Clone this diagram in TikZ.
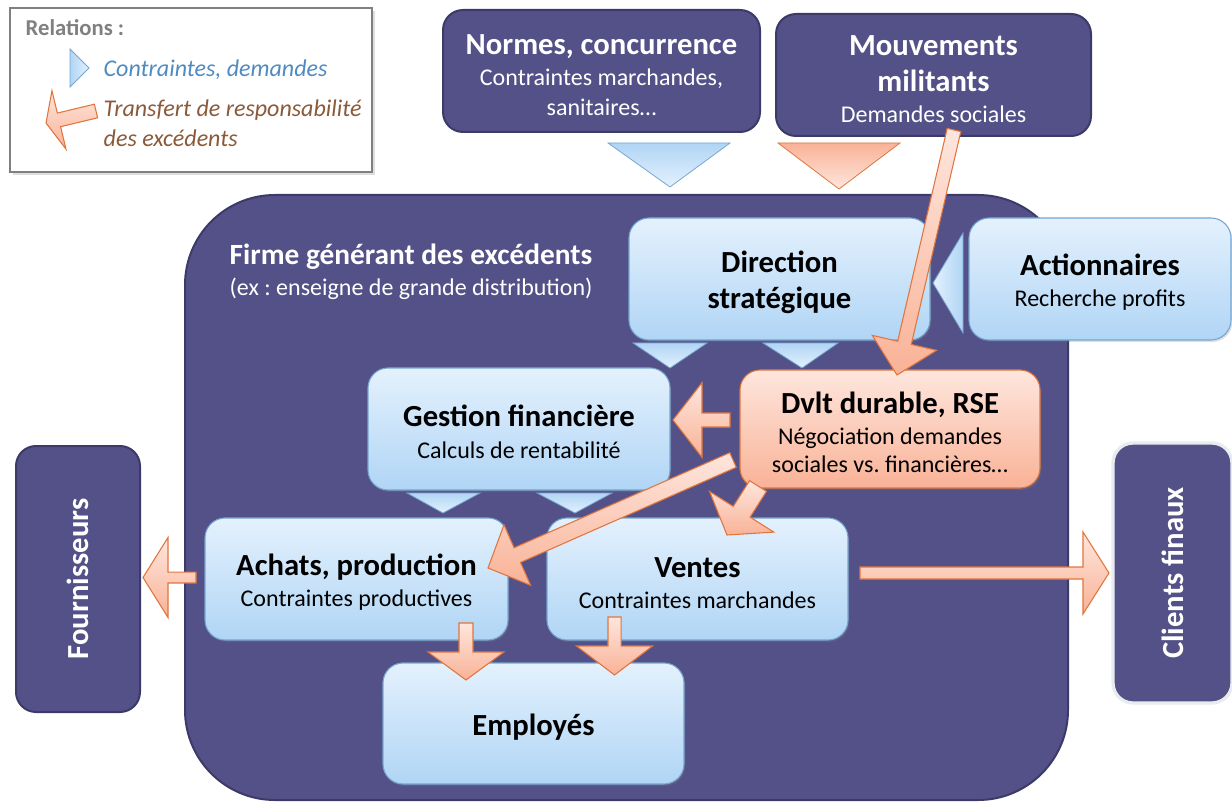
\documentclass[tikz,border=0pt]{standalone}
\usepackage{fontspec}
\setmainfont{Carlito}
\usetikzlibrary{calc,shadows}
\frenchspacing

\definecolor{darkfill}{RGB}{83,81,135}
\definecolor{darkline}{RGB}{60,58,105}
\definecolor{bluetop}{RGB}{228,241,253}
\definecolor{bluebot}{RGB}{176,213,245}
\definecolor{blueline}{RGB}{118,166,208}
\definecolor{orangetop}{RGB}{254,230,221}
\definecolor{orangebot}{RGB}{249,178,151}
\definecolor{orangeline}{RGB}{224,118,62}
\definecolor{legblue}{RGB}{79,139,192}
\definecolor{legbrown}{RGB}{138,90,58}

\tikzset{
	darkbox/.style={draw=darkline, line width=1.5pt, fill=darkfill, rounded corners=15pt, text=white, align=center, inner sep=0pt, font=\subfont},
	bluebox/.style={draw=blueline, line width=0.8pt, top color=bluetop, bottom color=bluebot, rounded corners=15pt, align=center, inner sep=0pt, font=\subfont, drop shadow={opacity=0.25, shadow xshift=1pt, shadow yshift=-1.5pt}},
	orangebox/.style={bluebox, draw=orangeline, top color=orangetop, bottom color=orangebot},
	bluetri/.style={draw=blueline, line width=0.6pt, top color=bluebot, bottom color=bluetop},
	orangetri/.style={draw=orangeline, line width=0.6pt, top color=orangebot, bottom color=orangetop},
	relarrow/.style={draw=orangeline, line width=0.8pt, top color=orangetop, bottom color=orangebot, line join=miter},
}
\newcommand{\subfont}{\fontsize{18}{22.5}\selectfont}
\newcommand{\titre}[1]{{\fontsize{23}{27}\selectfont\bfseries\rule{0pt}{21pt}#1}}
% block arrow: from, to, shaft half width, head half width, head length
\newcommand{\blockarrow}[5]{%
	\coordinate (neck) at ($(#2)!#5!(#1)$);
	\path[relarrow] ($(#1)!#3!90:(#2)$) -- ($(neck)!#3!90:(#2)$) -- ($(neck)!#4!90:(#2)$) -- (#2)
		-- ($(neck)!#4!-90:(#2)$) -- ($(neck)!#3!-90:(#2)$) -- ($(#1)!#3!-90:(#2)$) -- cycle;}

\begin{document}
\begin{tikzpicture}[x=0.75pt, y=-0.75pt]
	\useasboundingbox (0,0) rectangle (1232,802);

	% legend
	\node[draw=gray, line width=0.8pt, fill=white, minimum width=271.5pt, minimum height=123pt, drop shadow={opacity=0.25}] (legende) at (191,90) {};
	\node[anchor=west, text=gray, font=\fontsize{17}{20}\selectfont\bfseries] (relations) at (21,28) {Relations :};
	\path[bluetri, left color=bluebot, right color=bluetop] (70,49) -- (89,68) -- (70,87) -- cycle;
	\node[anchor=west, text=legblue, font=\fontsize{18}{22}\selectfont\itshape] (contraintes) at (99,70) {Contraintes, demandes};
	\node[anchor=north west, align=left, text=legbrown, font=\fontsize{18}{22.5}\selectfont\itshape] (transfert) at (99,95) {Transfert de responsabilité\\des excédents};
	\coordinate (legtail) at (96,111);
	\coordinate (legtip) at (46,123);
	\blockarrow{legtail}{legtip}{5.25pt}{22.5pt}{10pt}

	% firm
	\node[draw=darkline, line width=1.5pt, fill=darkfill, rounded corners=67.5pt, minimum width=662.25pt, minimum height=453.75pt] (firme) at (626.5,497.5) {};
	\node[anchor=north west, align=left, text=white, font=\subfont] (titrefirme) at (225,239) {{\fontsize{22}{27}\selectfont\bfseries Firme générant des excédents}\\[1pt](ex : enseigne de grande distribution)};

	% outside actors
	\node[darkbox, minimum width=237.75pt, minimum height=91.5pt] (normes) at (601.5,71) {\titre{Normes, concurrence}\\[1pt]Contraintes marchandes,\\sanitaires…};
	\node[darkbox, minimum width=236.25pt, minimum height=91.5pt] (mouvements) at (933.5,75) {\titre{Mouvements}\\[4.5pt]\titre{militants}\\[1pt]Demandes sociales};
	\node[darkbox, minimum width=93pt, minimum height=199.5pt] (fournisseurs) at (78,579) {};
	\node[rotate=90, text=white, font=\fontsize{23}{27}\selectfont\bfseries] at (fournisseurs) {Fournisseurs};
	\node[darkbox, draw=bluetop!70!gray!40, line width=2.5pt, minimum width=89.25pt, minimum height=195pt] (clients) at (1172.5,573) {};
	\node[rotate=90, text=white, font=\fontsize{23}{27}\selectfont\bfseries] at (clients) {Clients finaux};

	% inside the firm
	\node[bluebox, minimum width=225.75pt, minimum height=91.5pt] (direction) at (779.5,279) {\titre{Direction}\\[4.5pt]\titre{stratégique}};
	\node[bluebox, minimum width=196.5pt, minimum height=91.5pt] (actionnaires) at (1100,279) {\titre{Actionnaires}\\[1pt]Recherche profits};
	\node[bluebox, minimum width=226.5pt, minimum height=91.5pt] (gestion) at (519,429) {\titre{Gestion financière}\\[1.5pt]Calculs de rentabilité};
	\node[orangebox, minimum width=225pt, minimum height=88.5pt] (dvlt) at (890,429) {\titre{Dvlt durable, RSE}\\[0.5pt]Négociation demandes\\[-1.5pt]sociales vs. financières…};
	\node[bluebox, minimum width=227.25pt, minimum height=91.5pt] (achats) at (356.5,579) {\titre{Achats, production}\\[1pt]Contraintes productives};
	\node[bluebox, minimum width=225.75pt, minimum height=91.5pt] (ventes) at (697.5,579) {\titre{Ventes}\\[1pt]Contraintes marchandes};
	\node[bluebox, minimum width=225.75pt, minimum height=90.75pt] (employes) at (533.5,723.5) {\titre{Employés}};

	% constraints
	\path[bluetri] (608,143) -- (730,143) -- (670,187) -- cycle;
	\path[orangetri] (778,143) -- (900,143) -- (839,189) -- cycle;
	\path[bluetri, left color=bluetop, right color=bluebot] (963,233) -- (963,333) -- (933,283) -- cycle;
	\path[bluetri] (633,343) -- (707,343) -- (670,368) -- cycle;
	\path[bluetri] (763,343) -- (838,343) -- (802,368) -- cycle;
	\path[bluetri] (407,493) -- (480,493) -- (443,513) -- cycle;
	\path[bluetri] (537,493) -- (612,493) -- (575,513) -- cycle;

	% transfers
	\coordinate (t1) at (954,130);  \coordinate (h1) at (897,375);
	\coordinate (t2) at (730,420);  \coordinate (h2) at (673,420);
	\coordinate (t3) at (733,460);  \coordinate (h3) at (488,568);
	\coordinate (t4) at (758,486);  \coordinate (h4) at (727,535);
	\coordinate (t5) at (196,577.5);\coordinate (h5) at (143,577.5);
	\coordinate (t6) at (860,573);  \coordinate (h6) at (1109,573);
	\coordinate (t7) at (466,623);  \coordinate (h7) at (466,680);
	\coordinate (t8) at (614.5,617);\coordinate (h8) at (614.5,675);
	\blockarrow{t1}{h1}{5.25pt}{24.75pt}{24.75pt}
	\blockarrow{t2}{h2}{5.25pt}{28pt}{21.75pt}
	\blockarrow{t3}{h3}{6pt}{24.75pt}{24pt}
	\blockarrow{t4}{h4}{7.5pt}{28.5pt}{20.6pt}
	\blockarrow{t5}{h5}{4.1pt}{30pt}{18.75pt}
	\blockarrow{t6}{h6}{4.5pt}{30.75pt}{19.5pt}
	\blockarrow{t7}{h7}{5.25pt}{28.5pt}{21pt}
	\blockarrow{t8}{h8}{4.9pt}{28.5pt}{21.75pt}
\end{tikzpicture}
\end{document}
